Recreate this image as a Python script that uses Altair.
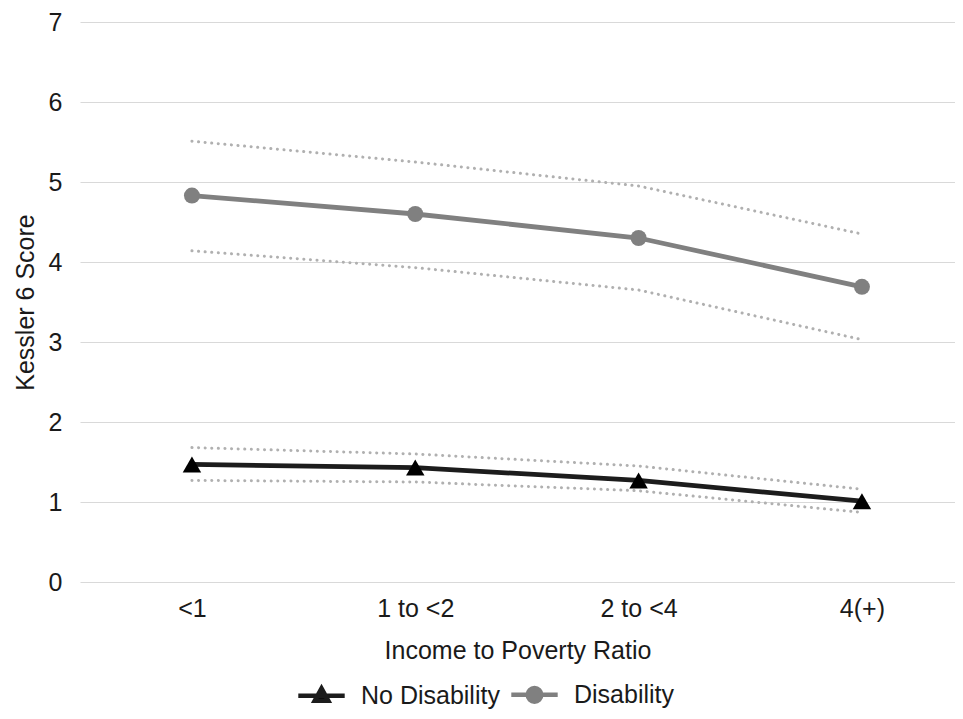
import altair as alt
import pandas as pd

categories = ["<1", "1 to <2", "2 to <4", "4(+)"]
series_names = ["No Disability", "Disability"]

disability = [4.83, 4.60, 4.30, 3.69]
disability_hi = [5.51, 5.25, 4.95, 4.35]
disability_lo = [4.14, 3.93, 3.65, 3.03]

no_disability = [1.47, 1.43, 1.27, 1.01]
no_disability_hi = [1.68, 1.60, 1.45, 1.16]
no_disability_lo = [1.27, 1.25, 1.14, 0.87]

y_ticks = [0, 1, 2, 3, 4, 5, 6, 7]

colors = ["#1c1c1c", "#808080"]
FONT = "Liberation Sans"
FS = 25

main_rows = []
for c, v in zip(categories, no_disability):
    main_rows.append({"cat": c, "series": "No Disability", "value": v})
for c, v in zip(categories, disability):
    main_rows.append({"cat": c, "series": "Disability", "value": v})
main_df = pd.DataFrame(main_rows)

ci_rows = []
for name, hi, lo in [("No Disability", no_disability_hi, no_disability_lo),
                     ("Disability", disability_hi, disability_lo)]:
    for c, h, l in zip(categories, hi, lo):
        ci_rows.append({"cat": c, "series": name, "bound": "hi", "value": h})
        ci_rows.append({"cat": c, "series": name, "bound": "lo", "value": l})
ci_df = pd.DataFrame(ci_rows)

x_enc = alt.X("cat:N", sort=categories,
              scale=alt.Scale(type="point", padding=0.459, align=0.546),
              axis=alt.Axis(title="Income to Poverty Ratio", labelAngle=0,
                            domain=False, ticks=False, grid=False,
                            labelPadding=14, titlePadding=17))
y_enc = alt.Y("value:Q", scale=alt.Scale(domain=[0, 7], nice=False),
              axis=alt.Axis(title="Kessler 6 Score", values=y_ticks,
                            domain=False, ticks=False, grid=True,
                            labelPadding=18, titlePadding=10))

TRI = "M-2.9,0H2.9M0,-0.9L0.85,0.65H-0.85Z"
CIRC = "M-2.9,0H2.9M0.85,0A0.85,0.85 0 1,1 -0.85,0A0.85,0.85 0 1,1 0.85,0Z"

legend = alt.Legend(
    orient="none", legendX=214, legendY=660,
    direction="horizontal", title=None,
    symbolSize=256, symbolOffset=15, labelOffset=27, columnPadding=2,
    labelFontSize=FS, labelFont=FONT, labelColor="#1a1a1a",
    symbolType={"expr": "datum.value == 'No Disability' ? '" + TRI + "' : '" + CIRC + "'"},
    symbolFillColor={"expr": "datum.value == 'No Disability' ? '#000000' : '#808080'"},
    symbolStrokeColor={"expr": "datum.value == 'No Disability' ? '#1c1c1c' : '#808080'"},
    symbolStrokeWidth=4.5,
    symbolOpacity=1,
)

color_scale = alt.Scale(domain=series_names, range=colors)

ci = alt.Chart(ci_df).mark_line(
    strokeDash=[0.1, 6.5], strokeCap="round", strokeWidth=3, color="#b0b0b0"
).encode(
    x=x_enc, y=y_enc,
    detail=alt.Detail("key:N"),
).transform_calculate(key="datum.series + datum.bound")

lines = alt.Chart(main_df).mark_line(strokeWidth=4.8).encode(
    x=x_enc, y=y_enc,
    color=alt.Color("series:N", scale=color_scale, legend=legend,
                    sort=series_names),
)

tri_points = alt.Chart(main_df).transform_filter(
    "datum.series == 'No Disability'"
).mark_point(filled=True, opacity=1, shape="triangle-up", size=340,
             color="#000000").encode(x=x_enc, y=y_enc)

circ_points = alt.Chart(main_df).transform_filter(
    "datum.series == 'Disability'"
).mark_point(filled=True, opacity=1, shape="circle", size=256,
             color="#808080").encode(x=x_enc, y=y_enc)

chart = alt.layer(ci, lines, tri_points, circ_points).properties(
    width=875, height=560,
    autosize=alt.AutoSizeParams(type="none"),
    padding={"left": 72, "top": 14, "right": 0, "bottom": 129},
).configure_view(stroke=None).configure_axis(
    labelFont=FONT, titleFont=FONT, labelFontSize=FS, titleFontSize=FS,
    labelColor="#1a1a1a", titleColor="#1a1a1a", titleFontWeight="normal",
    gridColor="#d9d9d9", gridWidth=1,
)

chart.save("out.html", embed_options={"renderer": "svg", "actions": False})
